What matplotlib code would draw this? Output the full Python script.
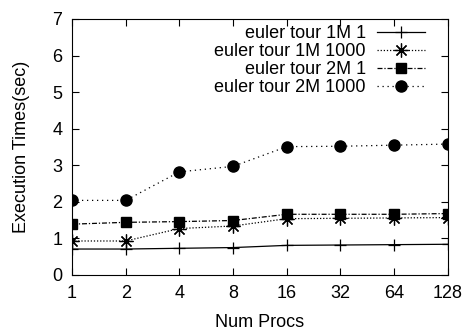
import matplotlib
matplotlib.use("Agg")
import matplotlib.pyplot as plt

procs = ["1", "2", "4", "8", "16", "32", "64", "128"]
et_1m_1 = [0.71, 0.71, 0.73, 0.75, 0.81, 0.82, 0.83, 0.84]
et_1m_1000 = [0.93, 0.93, 1.27, 1.34, 1.54, 1.55, 1.56, 1.57]
et_2m_1 = [1.39, 1.44, 1.46, 1.49, 1.66, 1.66, 1.66, 1.68]
et_2m_1000 = [2.04, 2.04, 2.82, 2.97, 3.51, 3.52, 3.55, 3.58]

plt.rcParams["font.family"] = ["Liberation Sans", "DejaVu Sans"]

fig = plt.figure(figsize=(4.69, 3.32), dpi=100)
ax = fig.add_axes([0.1535, 0.1717, 0.8015, 0.7711])

x = list(range(len(procs)))
ax.plot(x, et_1m_1, color="black", lw=0.9, ls="-", marker="+", ms=9, mew=0.9,
        label="euler tour 1M 1")
ax.plot(x, et_1m_1000, color="black", lw=0.9, ls=(0, (1, 1.5)), marker=(8, 2, 0),
        ms=10, mew=0.9, label="euler tour 1M 1000")
ax.plot(x, et_2m_1, color="black", lw=0.9, ls=(0, (4, 1.5, 1, 1.5)), marker="s",
        ms=7.3, label="euler tour 2M 1")
ax.plot(x, et_2m_1000, color="black", lw=0.9, ls=(0, (1, 3)), marker="o",
        ms=8, label="euler tour 2M 1000")

ax.set_xlim(0, len(procs) - 1)
ax.set_ylim(0, 7)
ax.set_xticks(x)
ax.set_xticklabels(procs)
ax.set_yticks(range(8))
ax.tick_params(direction="in", top=True, right=True, length=5, labelsize=13, pad=7)
ax.set_xlabel("Num Procs", fontsize=13, labelpad=9)
ax.set_ylabel("Execution Times(sec)", fontsize=13, labelpad=16)

ax.legend(loc="upper right", bbox_to_anchor=(0.94, 0.975), frameon=False,
          markerfirst=False, fontsize=13, handlelength=2.7, labelspacing=0.05,
          borderaxespad=0, borderpad=0, handletextpad=0.6)

fig.savefig("out.png", dpi=100)
